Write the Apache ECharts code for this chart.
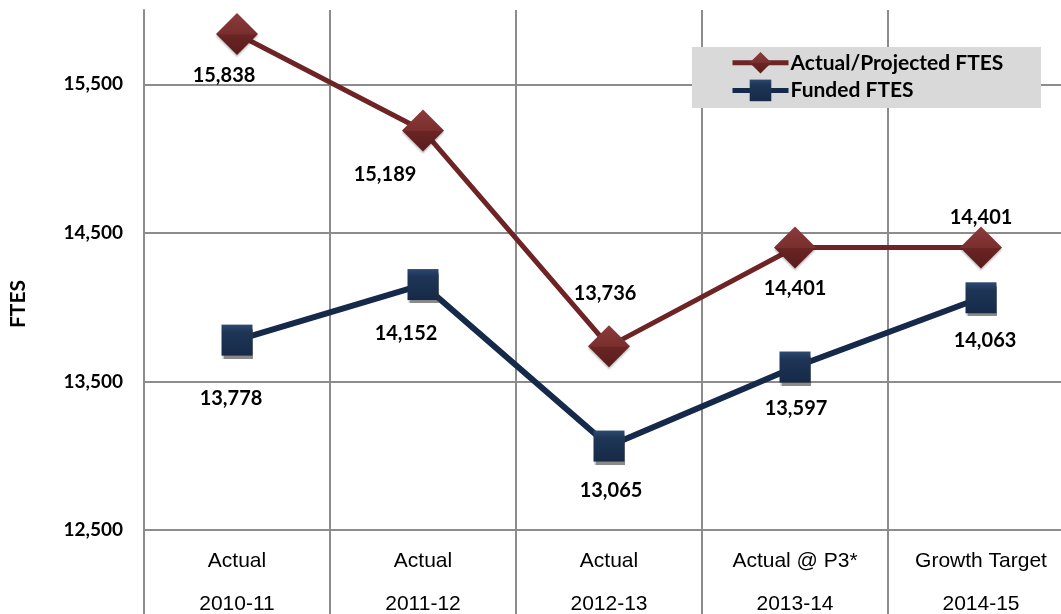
<!DOCTYPE html>
<html>
<head>
<meta charset="utf-8">
<title>FTES</title>
<script src="https://cdn.jsdelivr.net/npm/echarts@6/dist/echarts.min.js"></script>
<style>
  html, body { margin: 0; padding: 0; background: #ffffff; }
  #chart { width: 1061px; height: 614px; }
</style>
</head>
<body>
<div id="chart"></div>
<script>
// Category labels: status row and fiscal year row
const statusLabels = ['Actual', 'Actual', 'Actual', 'Actual @ P3*', 'Growth Target'];
const yearLabels = ['2010-11', '2011-12', '2012-13', '2013-14', '2014-15'];

// FTES per year
const actualProjected = [15838, 15189, 13736, 14401, 14401];
const funded = [13778, 14152, 13065, 13597, 14063];

// Value axis ticks
const yTicks = [12500, 13500, 14500, 15500];
const yMin = 12500;
const yMax = 16000;

const seriesNames = ['Actual/Projected FTES', 'Funded FTES'];

// Per-point label offsets (px) from each marker's centre
const actualLabelOffsets = [[-13, 41], [-38, 44], [-4, -53], [0, 41], [0, -30]];
const fundedLabelOffsets = [[-6, 58], [-17, 49], [2, 44], [1, 42], [4, 43]];

const FONT = 'Lato, "Open Sans", sans-serif';
const GRID_COLOR = '#8c8c8c';

function fmt(v) {
  return v.toLocaleString('en-US');
}

function withLabels(values, offsets) {
  return values.map((v, i) => ({
    value: v,
    label: { offset: offsets[i] }
  }));
}

const labelStyle = {
  show: true,
  position: 'inside',
  color: '#000',
  fontFamily: FONT,
  fontWeight: 'bold',
  fontSize: 20,
  formatter: p => fmt(p.value)
};

const chart = echarts.init(document.getElementById('chart'), null, { renderer: 'canvas' });

chart.setOption({
  backgroundColor: '#ffffff',
  animation: false,
  grid: {
    left: 144, right: -13, top: 10, bottom: 84,
    containLabel: false,
    outerBoundsMode: 'none'
  },
  xAxis: {
    type: 'category',
    data: statusLabels.map((s, i) => s + '\n' + yearLabels[i]),
    boundaryGap: true,
    axisLine: { show: true, lineStyle: { color: GRID_COLOR, width: 2 } },
    axisTick: { show: true, length: 84, interval: 0, lineStyle: { color: GRID_COLOR, width: 2 } },
    splitLine: { show: true, interval: 0, lineStyle: { color: GRID_COLOR, width: 2 } },
    axisLabel: {
      interval: 0,
      margin: 10,
      color: '#000',
      fontFamily: 'Liberation Sans, Arial, sans-serif',
      fontSize: 21,
      lineHeight: 43
    }
  },
  yAxis: {
    type: 'value',
    min: yMin,
    max: yMax,
    axisLine: { show: true, lineStyle: { color: GRID_COLOR, width: 2 } },
    axisTick: { show: false, customValues: yTicks },
    splitLine: { show: true, lineStyle: { color: GRID_COLOR, width: 2 } },
    axisLabel: {
      customValues: yTicks,
      margin: 21,
      color: '#000',
      fontFamily: FONT,
      fontWeight: 'bold',
      fontSize: 19,
      formatter: v => fmt(v)
    }
  },
  legend: {
    orient: 'vertical',
    left: 730,
    top: 52,
    itemWidth: 56,
    itemHeight: 27,
    itemGap: 6,
    padding: 0,
    z: 10,
    data: seriesNames,
    lineStyle: { width: 5 },
    textStyle: {
      color: '#000',
      fontFamily: FONT,
      fontWeight: 'bold',
      fontSize: 21,
      padding: [0, 0, 0, -3]
    }
  },
  graphic: [
    {
      type: 'rect',
      z: 5,
      shape: { x: 692, y: 47, width: 349, height: 61 },
      style: { fill: '#d9d9d9' }
    },
    {
      type: 'text',
      z: 5,
      x: 18,
      y: 304,
      rotation: Math.PI / 2,
      style: {
        text: 'FTES',
        fill: '#000',
        font: 'bold 21px ' + FONT,
        textAlign: 'center',
        textVerticalAlign: 'middle'
      }
    }
  ],
  series: [
    {
      name: seriesNames[0],
      type: 'line',
      z: 3,
      data: withLabels(actualProjected, actualLabelOffsets),
      symbol: 'diamond',
      symbolSize: [42, 42],
      lineStyle: { color: '#6e2424', width: 5 },
      itemStyle: {
        color: new echarts.graphic.LinearGradient(0, 0, 0, 1, [
          { offset: 0, color: '#8b3b3b' },
          { offset: 0.5, color: '#7a2e2e' },
          { offset: 0.52, color: '#6a2424' },
          { offset: 1, color: '#5a1c1c' }
        ]),
        shadowColor: 'rgba(0,0,0,0.25)',
        shadowBlur: 2,
        shadowOffsetY: 2
      },
      label: labelStyle
    },
    {
      name: seriesNames[1],
      type: 'line',
      z: 3,
      data: withLabels(funded, fundedLabelOffsets),
      symbol: 'rect',
      symbolSize: [31, 31],
      lineStyle: { color: '#15294a', width: 6 },
      itemStyle: {
        color: new echarts.graphic.LinearGradient(0, 0, 0, 1, [
          { offset: 0, color: '#2c4a72' },
          { offset: 0.25, color: '#1e3556' },
          { offset: 1, color: '#162a47' }
        ]),
        shadowColor: 'rgba(60,60,60,0.6)',
        shadowBlur: 1,
        shadowOffsetY: 3
      },
      label: labelStyle
    }
  ]
});
</script>
</body>
</html>
